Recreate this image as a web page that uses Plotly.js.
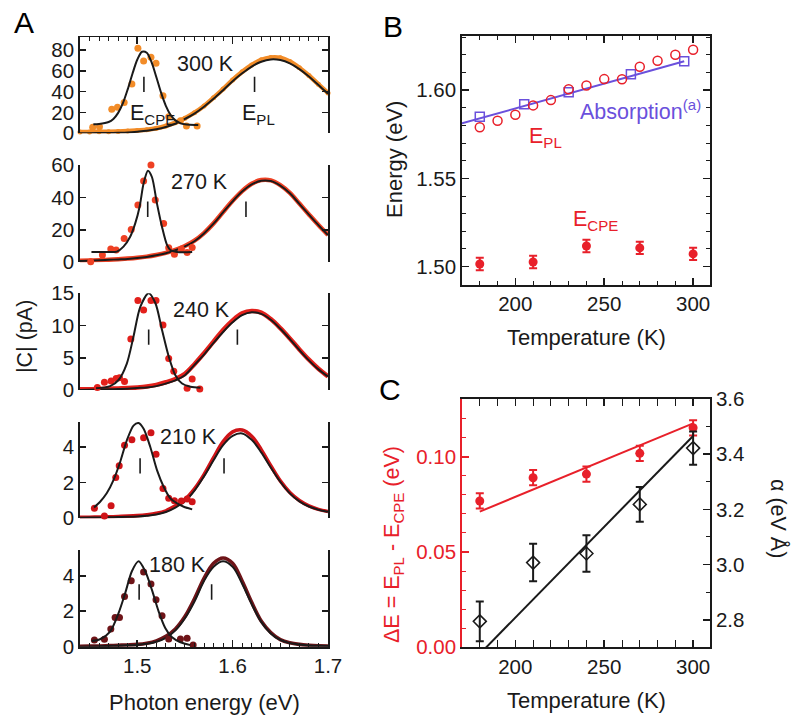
<!DOCTYPE html>
<html><head><meta charset="utf-8">
<script src="https://cdn.plot.ly/plotly-3.0.1.min.js"></script>
<style>html,body{margin:0;padding:0;background:#fff}#chart{width:793px;height:715px}</style>
</head><body><div id="chart"></div>
<script>
// ---------- Panel A : |C| spectra ----------
const plE = [1.44,1.45,1.46,1.47,1.48,1.49,1.50,1.51,1.52,1.53,1.54,1.55,1.56,1.57,1.58,1.59,1.60,1.61,1.62,1.63,1.64,1.65,1.66,1.67,1.68,1.69,1.70];
const plFit300  = [0.1,0.1,0.2,0.3,0.5,0.8,1.5,2.4,3.9,6.1,9.2,13.8,18.9,25.5,33.1,41.4,50.0,57.6,64.1,68.7,70.9,70.3,67.2,61.7,54.6,46.4,38.0];
const plData300 = [1.2,1.3,1.5,1.6,1.8,2.2,2.8,3.5,4.8,7.0,10.2,14.5,19.8,26.3,34.2,42.5,51.2,59.0,65.6,70.6,72.8,72.5,69.0,63.0,55.5,47.0,38.8];
const plFit270  = [0.8,1.0,1.2,1.5,1.8,2.1,2.6,3.3,4.3,5.6,7.4,9.8,13.0,17.8,23.8,30.8,37.6,43.6,48.0,50.3,50.1,47.3,42.6,36.0,29.4,22.9,16.8];
const plData270 = [0.9,1.1,1.3,1.6,1.9,2.3,2.8,3.5,4.5,5.8,7.6,10.0,13.3,18.0,24.0,31.0,37.9,43.9,48.4,50.7,50.5,47.6,42.8,36.2,29.5,23.0,16.9];
const plFit240  = [0.0,0.05,0.07,0.1,0.15,0.2,0.3,0.4,0.6,1.0,1.5,2.3,3.9,5.5,7.3,9.0,10.5,11.6,12.05,11.8,10.9,9.5,7.9,6.2,4.6,3.2,2.1];
const plData240 = [0.1,0.12,0.15,0.2,0.25,0.3,0.4,0.55,0.8,1.2,1.7,2.5,4.0,5.7,7.5,9.3,10.8,11.9,12.25,12.0,11.0,9.6,8.0,6.3,4.7,3.3,2.1];
const plFit210  = [0.03,0.04,0.05,0.06,0.07,0.08,0.1,0.14,0.21,0.35,0.6,0.95,1.55,2.35,3.25,4.1,4.62,4.76,4.4,3.7,2.85,2.05,1.4,0.95,0.66,0.48,0.37];
const plData210 = [0.05,0.06,0.07,0.08,0.1,0.12,0.15,0.2,0.28,0.42,0.7,1.05,1.65,2.45,3.4,4.3,4.85,4.95,4.6,3.85,2.95,2.1,1.45,1.0,0.7,0.5,0.38];
const plFit180  = [0.0,0.01,0.02,0.04,0.06,0.08,0.1,0.16,0.28,0.5,0.92,1.6,2.55,3.7,4.5,4.81,4.5,3.55,2.4,1.4,0.75,0.38,0.2,0.12,0.07,0.05,0.04];
const plData180 = [0.02,0.03,0.04,0.06,0.08,0.1,0.13,0.2,0.33,0.58,1.0,1.7,2.7,3.85,4.7,5.0,4.7,3.7,2.5,1.45,0.8,0.4,0.22,0.13,0.08,0.05,0.04];

const cpeFitE300 = [1.454,1.46,1.47,1.475,1.48,1.485,1.49,1.495,1.50,1.505,1.51,1.515,1.52,1.525,1.53,1.535,1.54,1.545,1.55,1.555,1.564];
const cpeFit300  = [8.8,9.0,10.8,13.8,19.6,29.0,42.2,57.2,70.6,78.3,77.4,68.3,54.1,39.0,26.4,17.6,12.4,9.8,8.6,8.2,8.0];
const cpeDataE300 = [1.4533,1.4604,1.4733,1.4793,1.4863,1.4944,1.5007,1.5067,1.5144,1.5197,1.527,1.533,1.5453,1.5516,1.5628];
const cpeData300  = [5.8,6.4,23,25,29.5,47.3,81.6,69.5,73,67.2,36.1,16,12.1,7,7];

const cpeFitE270 = [1.452,1.465,1.4786,1.4856,1.4926,1.4979,1.5025,1.5067,1.5112,1.5154,1.5207,1.526,1.5312,1.5347,1.5418,1.5576];
const cpeFit270  = [6.4,6.4,6.6,9.7,15.8,24.0,34.3,48.7,56.5,52.6,36.2,21.8,10.7,7.6,6.4,6.4];
const cpeDataE270 = [1.4512,1.4635,1.4723,1.4779,1.4863,1.4937,1.5007,1.5067,1.5144,1.5189,1.5277,1.533,1.539,1.5463,1.5523,1.5576];
const cpeData270  = [0.4,4.5,8.2,7.6,14.6,20.3,35.3,50.1,60,38.4,24,9,4.9,8.2,6,9.2];

const cpeFitE240 = [1.4568,1.4716,1.4804,1.4891,1.4961,1.5032,1.5119,1.519,1.526,1.533,1.54,1.547,1.5558,1.5663];
const cpeFit240  = [0.26,0.6,1.55,4.1,8.3,12.9,15.0,13.5,9.3,5.2,2.3,1.0,0.5,0.36];
const cpeDataE240 = [1.4582,1.4656,1.4726,1.4779,1.4814,1.4867,1.4933,1.5007,1.5067,1.5144,1.5197,1.527,1.533,1.5383,1.5523,1.5576,1.5656];
const cpeData240  = [0.4,1.2,1.4,1.8,1.9,1.3,7.9,13.9,12.4,13.9,13.9,10.1,4.9,2.9,0.26,1.7,0.15];

const cpeFitE210 = [1.4547,1.4611,1.468,1.4751,1.4821,1.4891,1.4961,1.5014,1.5067,1.5137,1.5207,1.5277,1.5347,1.5418,1.5488,1.5576];
const cpeFit210  = [0.61,0.93,1.4,2.14,3.16,4.37,5.2,5.34,5.02,4.0,2.7,1.77,1.12,0.84,0.65,0.5];
const cpeDataE210 = [1.4551,1.4656,1.4726,1.4775,1.4811,1.4867,1.4944,1.502,1.5067,1.5144,1.5197,1.527,1.533,1.539,1.5463,1.5523,1.5576];
const cpeData210  = [0.56,0.13,0.71,2.29,2.94,4.09,4.41,5.42,4.52,4.8,3.59,1.67,1.12,0.99,0.97,1.08,0.93];

const cpeFitE180 = [1.4523,1.461,1.4716,1.4804,1.4874,1.4944,1.5014,1.5084,1.5154,1.5225,1.5295,1.5365,1.5453,1.5558];
const cpeFit180  = [0.32,0.42,0.85,1.89,3.02,4.25,4.81,4.25,3.2,1.98,1.04,0.53,0.25,0.09];
const cpeDataE180 = [1.4551,1.4656,1.4723,1.4768,1.4814,1.4867,1.4937,1.5014,1.5067,1.5144,1.5197,1.526,1.533,1.5453,1.5523,1.5586];
const cpeData180  = [0.38,0.42,1.0,1.64,1.64,2.83,3.72,5.53,4.21,3.53,2.64,1.74,0.43,0.43,0.47,0.09];

// peak markers "I" (E_CPE, E_PL) and their heights in each sub-panel
const tempsA   = ['300 K','270 K','240 K','210 K','180 K'];
const tickCPE  = [1.507,1.511,1.512,1.503,1.502];
const tickPL   = [1.623,1.614,1.605,1.591,1.578];
const tickLvl  = [47,32.7,8.2,2.94,3.08];

// ---------- Panel B : energies vs temperature ----------
const tPL  = [180,190,200,210,220,230,240,250,260,270,280,290,300];
const ePL  = [1.5789,1.5826,1.586,1.5913,1.5943,1.6004,1.6026,1.6062,1.6061,1.6132,1.6166,1.62,1.6228];
const tAbs = [180,205,230,265,295];
const eAbs = [1.5849,1.5919,1.5987,1.6089,1.6163];
const tAbsLine = [170,295];
const eAbsLine = [1.5811,1.6163];
const tCPE = [180,210,240,270,300];
const eCPE = [1.5015,1.5026,1.5117,1.5106,1.5072];
const eCPEerr = [0.0035,0.0035,0.0035,0.0035,0.0035];

// ---------- Panel C : dE and alpha ----------
const tC = [180,210,240,270,300];
const dE = [0.0768,0.089,0.0909,0.1018,0.1152];
const dEerr = [0.004,0.004,0.004,0.004,0.004];
const dELineT = [180,300];
const dELine  = [0.0712,0.1175];
const alpha = [2.794,3.007,3.04,3.218,3.422];
const alphaErr = [0.072,0.068,0.066,0.063,0.06];
const alphaLineT = [180,300];
const alphaLine  = [2.676,3.466];

// ---------- styling / layout ----------
const W = 793, H = 715;
const FONT = 'Liberation Sans, Arial, Helvetica, sans-serif';
const INK = '#1a1a1a';
const RED = '#e8202a';
const PURPLE = '#6a50dc';
const colA = ['#f28c28','#ee4023','#e3201b','#cf1418','#6e1418'];
const plWidth = [4.5,4.5,4.5,3.6,3.6];
const xd = (a,b) => [a/W, b/W];
const yd = (top,bot) => [1-bot/H, 1-top/H];
const px = x => x/W, py = y => 1-y/H;

const tfont = {family: FONT, size: 20.5, color: INK};
const traces = [];

const subA = [
  {x:'x2', y:'y5', fitE:cpeFitE300, fit:cpeFit300, dE:cpeDataE300, d:cpeData300, pl:plData300, plf:plFit300},
  {x:'x',  y:'y4', fitE:cpeFitE270, fit:cpeFit270, dE:cpeDataE270, d:cpeData270, pl:plData270, plf:plFit270},
  {x:'x',  y:'y3', fitE:cpeFitE240, fit:cpeFit240, dE:cpeDataE240, d:cpeData240, pl:plData240, plf:plFit240},
  {x:'x',  y:'y2', fitE:cpeFitE210, fit:cpeFit210, dE:cpeDataE210, d:cpeData210, pl:plData210, plf:plFit210},
  {x:'x',  y:'y',  fitE:cpeFitE180, fit:cpeFit180, dE:cpeDataE180, d:cpeData180, pl:plData180, plf:plFit180}
];
subA.forEach((s,i) => {
  const c = colA[i];
  traces.push({x: plE, y: s.pl, xaxis:s.x, yaxis:s.y, type:'scatter', mode: i===0 ? 'lines+markers' : 'lines',
    line:{color:c, width:plWidth[i], shape:'spline', smoothing:1}, marker:{color:c, size:5}, cliponaxis:false, hoverinfo:'skip'});
  traces.push({x: plE, y: s.plf, xaxis:s.x, yaxis:s.y, type:'scatter', mode:'lines',
    line:{color:INK, width:2, shape:'spline', smoothing:1}, cliponaxis:false, hoverinfo:'skip'});
  traces.push({x: s.dE, y: s.d, xaxis:s.x, yaxis:s.y, type:'scatter', mode:'markers',
    marker:{color:c, size:7}, cliponaxis:false, hoverinfo:'skip'});
  traces.push({x: s.fitE, y: s.fit, xaxis:s.x, yaxis:s.y, type:'scatter', mode:'lines',
    line:{color:INK, width:2, shape:'spline', smoothing:0.8}, cliponaxis:false, hoverinfo:'skip'});
  traces.push({x: [tickCPE[i], tickPL[i]], y: [tickLvl[i], tickLvl[i]], xaxis:s.x, yaxis:s.y, type:'scatter', mode:'markers',
    marker:{symbol:'line-ns', size:11, line:{color:INK, width:1.6}}, hoverinfo:'skip'});
});

// Panel B
traces.push({x:tAbsLine, y:eAbsLine, xaxis:'x3', yaxis:'y6', type:'scatter', mode:'lines', line:{color:PURPLE, width:2}, hoverinfo:'skip'});
traces.push({x:tAbs, y:eAbs, xaxis:'x3', yaxis:'y6', type:'scatter', mode:'markers',
  marker:{symbol:'square-open', size:9, color:PURPLE, line:{width:1.5, color:PURPLE}}, hoverinfo:'skip'});
traces.push({x:tPL, y:ePL, xaxis:'x3', yaxis:'y6', type:'scatter', mode:'markers',
  marker:{symbol:'circle-open', size:9, color:RED, line:{width:1.5, color:RED}}, cliponaxis:false, hoverinfo:'skip'});
traces.push({x:tCPE, y:eCPE, xaxis:'x3', yaxis:'y6', type:'scatter', mode:'markers',
  marker:{symbol:'circle', size:9, color:RED},
  error_y:{type:'data', array:eCPEerr, color:RED, thickness:2, width:4}, hoverinfo:'skip'});

// Panel C
traces.push({x:dELineT, y:dELine, xaxis:'x4', yaxis:'y7', type:'scatter', mode:'lines', line:{color:RED, width:2}, hoverinfo:'skip'});
traces.push({x:tC, y:dE, xaxis:'x4', yaxis:'y7', type:'scatter', mode:'markers',
  marker:{symbol:'circle', size:9, color:RED},
  error_y:{type:'data', array:dEerr, color:RED, thickness:2, width:4}, hoverinfo:'skip'});
traces.push({x:alphaLineT, y:alphaLine, xaxis:'x4', yaxis:'y8', type:'scatter', mode:'lines', line:{color:INK, width:2}, hoverinfo:'skip'});
traces.push({x:tC, y:alpha, xaxis:'x4', yaxis:'y8', type:'scatter', mode:'markers',
  marker:{symbol:'diamond-open', size:10, color:INK, line:{width:1.5, color:INK}},
  error_y:{type:'data', array:alphaErr, color:INK, thickness:2, width:4}, hoverinfo:'skip'});

const baseAx = {showgrid:false, zeroline:false, showline:true, linecolor:INK, linewidth:1.8,
  ticks:'inside', ticklen:7, tickwidth:1.6, tickcolor:INK, tickfont:tfont, fixedrange:true};
const ayA = (top,bot,range,dtick,anchor) => Object.assign({}, baseAx, {
  domain: yd(top,bot), range: range, dtick: dtick, tick0: 0, anchor: anchor, mirror: 'ticks', ticklen: 6});
const xDomA = xd(80,328);
const xDomBC = xd(462,710);

const layout = {
  width: W, height: H, margin:{l:0,r:0,t:0,b:0}, paper_bgcolor:'#fff', plot_bgcolor:'rgba(0,0,0,0)',
  showlegend:false, font:{family:FONT, size:20, color:INK},
  xaxis: Object.assign({}, baseAx, {domain:xDomA, range:[1.44,1.70], anchor:'y', dtick:0.1, tick0:1.5, tickformat:'.1f',
    minor:{ticks:'inside', dtick:0.01, tick0:1.5, ticklen:4, tickwidth:1, tickcolor:INK}}),
  xaxis2: Object.assign({}, baseAx, {domain:xDomA, range:[1.44,1.70], anchor:'y5', side:'top', showticklabels:false, dtick:0.1, tick0:1.5,
    minor:{ticks:'inside', dtick:0.01, tick0:1.5, ticklen:4, tickwidth:1, tickcolor:INK}}),
  yaxis:  ayA(550, 646.7, [0,5.45], 2, 'x'),
  yaxis2: ayA(422, 518.3, [0,5.4], 2, 'x'),
  yaxis3: ayA(293.3, 390, [0,15], 5, 'x'),
  yaxis4: ayA(165, 262.3, [0,60], 20, 'x'),
  yaxis5: ayA(37.3, 133.3, [0,92.2], 20, 'x2'),
  xaxis3: Object.assign({}, baseAx, {domain:xDomBC, range:[170,309.5], anchor:'y6', mirror:'allticks', dtick:50, tick0:200,
    minor:{ticks:'inside', dtick:10, ticklen:4, tickwidth:1, tickcolor:INK}}),
  yaxis6: Object.assign({}, baseAx, {domain:yd(36,285), range:[1.4896,1.6306], anchor:'x3', mirror:'allticks', dtick:0.05, tick0:1.5, tickformat:'.2f',
    minor:{ticks:'inside', dtick:0.01, tick0:1.5, ticklen:4, tickwidth:1, tickcolor:INK}}),
  xaxis4: Object.assign({}, baseAx, {domain:xDomBC, range:[170,309.5], anchor:'y7', mirror:'allticks', dtick:50, tick0:200,
    minor:{ticks:'inside', dtick:10, ticklen:4, tickwidth:1, tickcolor:INK}}),
  yaxis7: Object.assign({}, baseAx, {domain:yd(399,647.3), range:[0,0.1303], anchor:'x4', dtick:0.05, tick0:0, tickformat:'.2f',
    linecolor:RED, tickcolor:RED, tickfont:{family:FONT, size:20.5, color:RED},
    minor:{ticks:'inside', dtick:0.01, ticklen:4, tickwidth:1, tickcolor:RED}}),
  yaxis8: Object.assign({}, baseAx, {domain:yd(399,647.3), range:[2.7,3.6], anchor:'x4', overlaying:'y7', side:'right', dtick:0.2, tick0:2.8, tickformat:'.1f',
    minor:{ticks:'inside', dtick:0.1, ticklen:4, tickwidth:1, tickcolor:INK}}),
  annotations: []
};

const ann = (text, x, y, opt) => layout.annotations.push(Object.assign({
  text: text, x: px(x), y: py(y), xref:'paper', yref:'paper', showarrow:false,
  xanchor:'center', yanchor:'middle', font:{family:FONT, size:21.5, color:INK}}, opt||{}));

// panel letters
ann('A', 24, 22, {font:{family:FONT, size:30, color:'#000'}});
ann('B', 393, 26, {font:{family:FONT, size:30, color:'#000'}});
ann('C', 390, 390, {font:{family:FONT, size:30, color:'#000'}});
// panel A labels
const kPos = [[205,64],[199,182],[201,310],[188,437],[177,565]];
tempsA.forEach((t,i) => ann(t, kPos[i][0], kPos[i][1]));
ann('E<sub>CPE</sub>', 128, 114, {xanchor:'left'});
ann('E<sub>PL</sub>', 240, 114, {xanchor:'left'});
ann('|C| (pA)', 25, 337, {textangle:-90});
ann('Photon energy (eV)', 204, 702, {font:{family:FONT, size:22, color:INK}});
// panel B labels
ann('Absorption<sup>(a)</sup>', 578, 110, {xanchor:'left', font:{family:FONT, size:21.5, color:PURPLE}});
ann('E<sub>PL</sub>', 527, 137, {xanchor:'left', font:{family:FONT, size:21.5, color:RED}});
ann('E<sub>CPE</sub>', 571, 220, {xanchor:'left', font:{family:FONT, size:21.5, color:RED}});
ann('Energy (eV)', 395, 160, {textangle:-90, font:{family:FONT, size:22, color:INK}});
ann('Temperature (K)', 586, 338, {font:{family:FONT, size:22, color:INK}});
// panel C labels
ann('ΔE = E<sub>PL</sub> - E<sub>CPE</sub> (eV)', 393, 545, {textangle:-90, font:{family:FONT, size:21.5, color:RED}});
ann('α (eV Å)', 778, 518, {textangle:90});
ann('Temperature (K)', 586, 700, {font:{family:FONT, size:22, color:INK}});

Plotly.newPlot('chart', traces, layout, {staticPlot:true, displayModeBar:false});
</script>
</body></html>
